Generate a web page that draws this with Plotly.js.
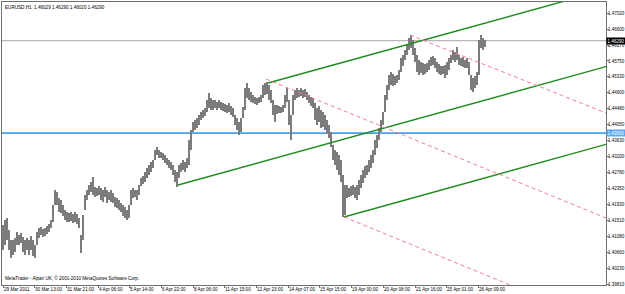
<!DOCTYPE html>
<html><head><meta charset="utf-8">
<script src="https://cdn.plot.ly/plotly-3.0.1.min.js"></script>
<style>html,body{margin:0;padding:0;background:#fff}#chart{width:625px;height:294px}</style>
</head><body><div id="chart"></div>
<script>
const symbol = "EURUSD,H1";
const lastOHLC = ["1.46029", "1.46290", "1.46020", "1.46290"];
const copyright = "MetaTrader - Alpari UK, © 2001-2010 MetaQuotes Software Corp.";

// sampled hourly bars (every 2nd hour), high and low prices
const barHigh = [
1.41382,1.41515,1.41569,1.41249,1.40983,1.40983,1.41036,1.41196,1.41116,1.41169,
1.41063,1.40983,1.41036,1.40983,1.41089,1.40983,1.40850,1.41196,1.41302,1.41329,
1.41276,1.41302,1.41356,1.41409,1.41515,1.41915,1.42314,1.42261,1.42101,1.42048,
1.41915,1.41782,1.41728,1.41702,1.41728,1.41675,1.41728,1.41675,1.41569,1.41116,
1.41649,1.42181,1.42314,1.42448,1.42527,1.42660,1.42394,1.42368,1.42421,1.42368,
1.42314,1.42394,1.42314,1.42261,1.42314,1.42234,1.42128,1.42101,1.42048,1.41968,
1.41915,1.41862,1.41782,1.41915,1.42314,1.42368,1.42314,1.42314,1.42448,1.42634,
1.42687,1.42794,1.42900,1.42980,1.43060,1.43113,1.43379,1.43459,1.43379,1.43326,
1.43300,1.43247,1.43166,1.43113,1.43060,1.42980,1.42847,1.42794,1.42980,1.43033,
1.43113,1.43060,1.43166,1.43646,1.43912,1.44125,1.44178,1.44232,1.44311,1.44391,
1.44445,1.44498,1.44711,1.44898,1.44764,1.44711,1.44711,1.44658,1.44711,1.44658,
1.44631,1.44604,1.44578,1.44631,1.44551,1.44498,1.44311,1.44232,1.44125,1.44232,
1.44525,1.45031,1.45164,1.45031,1.44924,1.44844,1.44791,1.44764,1.44791,1.44844,
1.45111,1.45164,1.45190,1.45111,1.44977,1.44711,1.44578,1.44578,1.44551,1.44525,
1.44578,1.44844,1.45031,1.44711,1.44311,1.44844,1.44977,1.45031,1.44977,1.45031,
1.44977,1.45004,1.44924,1.44844,1.44791,1.44764,1.44631,1.44498,1.44551,1.44445,
1.44391,1.44311,1.44178,1.44045,1.43859,1.43513,1.43379,1.43326,1.43247,1.43113,
1.42714,1.42448,1.42448,1.42368,1.42421,1.42448,1.42394,1.42448,1.42581,1.42714,
1.42847,1.42953,1.42980,1.43113,1.43247,1.43379,1.43646,1.43779,1.43965,1.44178,
1.44391,1.44844,1.45111,1.45377,1.45457,1.45403,1.45350,1.45377,1.45510,1.45829,
1.45909,1.46043,1.46176,1.46362,1.46442,1.46309,1.46096,1.45909,1.45776,1.45723,
1.45696,1.45670,1.45696,1.45776,1.45856,1.45883,1.45829,1.45723,1.45670,1.45616,
1.45616,1.45643,1.45723,1.45829,1.45909,1.46043,1.45989,1.46122,1.45909,1.45829,
1.45856,1.45776,1.45829,1.45723,1.45377,1.45297,1.45350,1.45457,1.46309,1.46442,
1.46362,1.46309];
const barLow = [
1.40717,1.40850,1.40983,1.40717,1.40504,1.40583,1.40663,1.40850,1.40850,1.40903,
1.40663,1.40583,1.40717,1.40583,1.40717,1.40557,1.40504,1.40850,1.41036,1.41116,
1.41063,1.41089,1.41143,1.41196,1.41302,1.41462,1.41915,1.41915,1.41728,1.41702,
1.41622,1.41515,1.41462,1.41462,1.41489,1.41436,1.41462,1.41409,1.41302,1.40637,
1.40983,1.41782,1.42048,1.42181,1.42261,1.42181,1.42128,1.42155,1.42181,1.42048,
1.41995,1.42128,1.41968,1.42048,1.41995,1.41968,1.41862,1.41835,1.41782,1.41728,
1.41622,1.41569,1.41515,1.41569,1.41915,1.42101,1.42128,1.42048,1.42181,1.42421,
1.42474,1.42527,1.42634,1.42714,1.42794,1.42900,1.43113,1.43247,1.43166,1.43166,
1.43113,1.43033,1.42980,1.42900,1.42847,1.42714,1.42527,1.42394,1.42634,1.42794,
1.42847,1.42794,1.42900,1.42980,1.43379,1.43859,1.43912,1.43965,1.44045,1.44178,
1.44232,1.44285,1.44391,1.44498,1.44445,1.44445,1.44498,1.44445,1.44498,1.44445,
1.44418,1.44391,1.44365,1.44391,1.44311,1.44258,1.44045,1.43912,1.43779,1.43859,
1.44232,1.44445,1.44764,1.44711,1.44658,1.44631,1.44604,1.44578,1.44631,1.44658,
1.44764,1.44844,1.44871,1.44711,1.44631,1.44311,1.44125,1.44338,1.44365,1.44365,
1.44391,1.44498,1.44658,1.44045,1.43646,1.44311,1.44711,1.44764,1.44791,1.44818,
1.44764,1.44791,1.44711,1.44631,1.44551,1.44498,1.44178,1.44045,1.44125,1.43965,
1.43992,1.43912,1.43832,1.43699,1.43459,1.43113,1.42980,1.42847,1.42714,1.42527,
1.41595,1.41649,1.42101,1.42128,1.42155,1.42181,1.42101,1.42048,1.42181,1.42368,
1.42501,1.42634,1.42714,1.42794,1.42900,1.43033,1.43247,1.43433,1.43646,1.43859,
1.44045,1.44391,1.44711,1.44977,1.45111,1.45084,1.45111,1.45164,1.45244,1.45457,
1.45616,1.45776,1.45909,1.46043,1.46096,1.45909,1.45723,1.45457,1.45377,1.45430,
1.45377,1.45403,1.45457,1.45510,1.45616,1.45643,1.45563,1.45457,1.45403,1.45377,
1.45403,1.45297,1.45377,1.45510,1.45696,1.45776,1.45723,1.45776,1.45643,1.45616,
1.45590,1.45563,1.45563,1.45377,1.44977,1.44924,1.45031,1.45111,1.45377,1.46096,
1.46043,1.46122];
const barStep = 2; // hours between sampled bars
const barIdx = barHigh.map((_, k) => k * barStep);

const xTickIdx = [0, 31, 63, 95, 126, 158, 190, 221, 253, 285, 316, 348, 380, 412, 443, 475];
const xTickText = ["29 Mar 2011", "30 Mar 13:00", "31 Mar 21:00", "4 Apr 06:00", "5 Apr 14:00",
  "6 Apr 22:00", "8 Apr 06:00", "11 Apr 15:00", "12 Apr 23:00", "14 Apr 07:00", "15 Apr 15:00",
  "19 Apr 00:00", "20 Apr 08:00", "21 Apr 16:00", "25 Apr 01:00", "26 Apr 09:00"];
const yTickVals = [1.47020, 1.46600, 1.46170, 1.45750, 1.45330, 1.44900, 1.44480, 1.44050, 1.43630,
  1.43200, 1.42780, 1.42350, 1.41930, 1.41510, 1.41080, 1.40660, 1.40230, 1.39810];

// green channel trendlines (start / end anchor points)
const chanIdx0 = [265, 175, 341];
const chanP0 = [1.45164, 1.42448, 1.41595];
const chanIdx1 = [603, 603, 603];
const chanP1 = [1.4765, 1.4560, 1.4353];
// pink dashed trendlines
const fanIdx0 = [263, 407, 341];
const fanP0 = [1.45270, 1.46442, 1.41595];
const fanIdx1 = [603, 603, 603];
const fanP1 = [1.41569, 1.44365, 1.3874];

const bidLine = 1.46290;
const alertLine = 1.43830;

const FONT = "Liberation Sans, Arial, sans-serif";
const FS = 4.6;
const YFS = 4.5;

// price bars as vertical segments
const segX = [], segY = [];
barIdx.forEach((x, k) => { segX.push(x, x, null); segY.push(barLow[k], barHigh[k], null); });

const traces = [];
traces.push({type: 'scatter', mode: 'lines', x: [-1, 603], y: [bidLine, bidLine],
  line: {color: '#a8a8a8', width: 1}, hoverinfo: 'skip', showlegend: false});
traces.push({type: 'scatter', mode: 'lines', x: [-1, 603], y: [alertLine, alertLine],
  line: {color: '#4b9ff0', width: 1.6}, hoverinfo: 'skip', showlegend: false});
traces.push({type: 'scatter', mode: 'lines', x: segX, y: segY, name: symbol,
  line: {color: '#7c7c7c', width: 2}, showlegend: false});
for (let i = 0; i < chanIdx0.length; i++) {
  traces.push({type: 'scatter', mode: 'lines', x: [chanIdx0[i], chanIdx1[i]], y: [chanP0[i], chanP1[i]],
    line: {color: '#1e8c1e', width: 1.4}, hoverinfo: 'skip', showlegend: false});
}
for (let i = 0; i < fanIdx0.length; i++) {
  traces.push({type: 'scatter', mode: 'lines', x: [fanIdx0[i], fanIdx1[i]], y: [fanP0[i], fanP1[i]],
    line: {color: '#f27d97', width: 1, dash: '4px,3px'}, hoverinfo: 'skip', showlegend: false});
}

const annotations = [];
annotations.push({xref: 'paper', yref: 'paper', x: 0, y: 1, xanchor: 'left', yanchor: 'top',
  xshift: 1, yshift: -1, showarrow: false, text: symbol + "  " + lastOHLC.join(" "),
  font: {family: FONT, size: FS, color: '#000'}});
annotations.push({xref: 'paper', yref: 'paper', x: 0, y: 0, xanchor: 'left', yanchor: 'bottom',
  xshift: 1, yshift: 2, showarrow: false, text: copyright,
  font: {family: FONT, size: FS, color: '#000'}});
xTickIdx.forEach((v, i) => {
  annotations.push({xref: 'x', yref: 'paper', x: v, y: 0, xanchor: 'left', yanchor: 'top',
    yshift: -1, showarrow: false, text: xTickText[i], borderpad: 0,
    font: {family: FONT, size: FS, color: '#000'}});
});
annotations.push({xref: 'paper', yref: 'y', x: 1, y: bidLine, xanchor: 'left', yanchor: 'middle',
  xshift: 0, showarrow: false, text: bidLine.toFixed(5), bgcolor: '#000', borderpad: 0.6,
  font: {family: FONT, size: YFS, color: '#fff'}});
annotations.push({xref: 'paper', yref: 'y', x: 1, y: alertLine, xanchor: 'left', yanchor: 'middle',
  xshift: 0, showarrow: false, text: alertLine.toFixed(5), bgcolor: '#5aa8f2', borderpad: 0.6,
  font: {family: FONT, size: YFS, color: '#fff'}});

const layout = {
  width: 625, height: 294,
  margin: {l: 2, r: 19, t: 2, b: 9, pad: 0},
  paper_bgcolor: '#fff', plot_bgcolor: '#fff',
  showlegend: false,
  xaxis: {range: [-1, 603], showgrid: false, zeroline: false, showline: true, mirror: true,
    linecolor: '#6e6e6e', linewidth: 1, ticks: 'outside', ticklen: 2, tickcolor: '#6e6e6e',
    tickvals: xTickIdx, showticklabels: false, fixedrange: true},
  yaxis: {side: 'right', range: [1.39784, 1.47321], showgrid: false, zeroline: false,
    showline: true, mirror: true, linecolor: '#6e6e6e', linewidth: 1,
    ticks: 'outside', ticklen: 2, tickcolor: '#6e6e6e', ticklabelstandoff: -2,
    tickvals: yTickVals, ticktext: yTickVals.map(v => v.toFixed(5)),
    tickfont: {family: FONT, size: YFS, color: '#000'}, fixedrange: true},
  annotations: annotations
};

Plotly.newPlot('chart', traces, layout, {displayModeBar: false, staticPlot: true});
</script>
</body></html>
